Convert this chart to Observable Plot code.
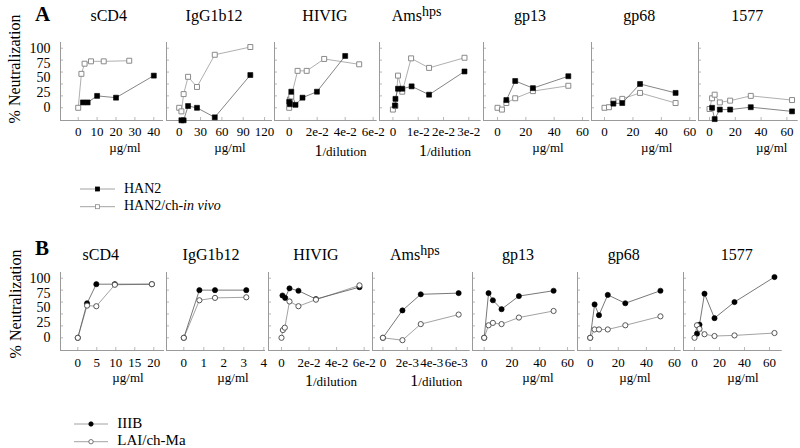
<!DOCTYPE html>
<html><head><meta charset="utf-8">
<script src="https://cdn.jsdelivr.net/npm/d3@7"></script>
<script src="https://cdn.jsdelivr.net/npm/@observablehq/plot@0.6"></script>
<style>
html,body{margin:0;padding:0;background:#fff;}
#chart{position:relative;width:800px;height:448px;overflow:hidden;font-family:"Liberation Serif","Times New Roman",serif;background:#fff;}
#chart svg text{font-family:"Liberation Serif","Times New Roman",serif;}
</style></head><body><div id="chart"></div>
<script>
// ---------- DATA ----------
const panelNames = ["sCD4", "IgG1b12", "HIVIG", "Ams", "gp13", "gp68", "1577"];
const xUnits = ["µg/ml", "µg/ml", "1/dilution", "1/dilution", "µg/ml", "µg/ml", "µg/ml"];
const yTickValues = [0, 25, 50, 75, 100];
const yMinorTicks = [0, 20, 40, 60, 80, 100];

// Panel A: HAN2 (filled squares) vs HAN2/ch-in vivo (open squares), [x, % neutralization]
const aHan2_sCD4 = [[2.5, 9], [5, 9], [10, 20], [20, 17], [40, 54]];
const aCh_sCD4 = [[0, 0], [1.69, 57], [3.375, 74], [6.75, 78], [13.5, 78], [27, 79]];
const aHan2_IgG = [[3.125, -21], [6.25, -21], [12.5, 3], [25, 0], [50, -16], [100, 55]];
const aCh_IgG = [[0, 0], [3.125, -6], [6.25, 23], [12.5, 52], [25, 35], [50, 89], [100, 102]];
const aHan2_HIVIG = [[0, 10], [0.0005, 6], [0.0015, 27], [0.0045, 5], [0.0095, 17], [0.0198, 27], [0.04, 87]];
const aCh_HIVIG = [[0, 0], [0.0005, 14], [0.0015, 19], [0.006, 62], [0.0125, 62], [0.025, 82], [0.05, 73]];
const aHan2_Ams = [[0.0008, 4], [0.001, 15], [0.002, 32], [0.0037, 32], [0.0074, 36], [0.0143, 22], [0.0283, 61]];
const aCh_Ams = [[0, -3], [0.001, 3], [0.002, 54], [0.0037, 27], [0.0072, 83], [0.0143, 67], [0.0283, 84]];
const aHan2_gp13 = [[6.25, 13], [12.5, 45], [25, 33], [50, 53]];
const aCh_gp13 = [[0, 0], [3.125, -3], [6.25, 8], [12.5, 16], [25, 28], [50, 37]];
const aHan2_gp68 = [[6.25, 7], [12.5, 8], [25, 40], [50, 25]];
const aCh_gp68 = [[0, 0], [3.125, 1], [6.25, 12], [12.5, 15], [25, 25], [50, 8]];
const aHan2_1577 = [[2, 0], [4, -19], [8, -3], [16, -3], [32, 1], [64, -6]];
const aCh_1577 = [[0, -2], [2, 16], [4, 22], [8, 9], [16, 12], [32, 20], [64, 13]];

// Panel B: IIIB (filled circles) vs LAI/ch-Ma (open circles)
const bIIIB_sCD4 = [[0, 0], [2.44, 58], [4.88, 90], [9.75, 90], [19.5, 90]];
const bLAI_sCD4 = [[0, 0], [2.44, 54], [4.88, 53], [9.75, 89], [19.5, 90]];
const bIIIB_IgG = [[0, 0], [0.78, 80], [1.56, 80], [3.125, 80]];
const bLAI_IgG = [[0, 0], [0.78, 63], [1.56, 67], [3.125, 68]];
const bIIIB_HIVIG = [[0.0007, 71], [0.0027, 67], [0.0058, 83], [0.0123, 79], [0.025, 65], [0.0566, 85]];
const bLAI_HIVIG = [[0, 0], [0.001, 13], [0.0024, 17], [0.0058, 61], [0.0123, 53], [0.025, 64], [0.0566, 88]];
const bIIIB_Ams = [[0, 0], [0.0016, 46], [0.0031, 73], [0.0062, 75]];
const bLAI_Ams = [[0, 0], [0.0016, -4], [0.0031, 23], [0.0062, 39]];
const bIIIB_gp13 = [[0, 0], [3.125, 75], [6.25, 63], [12.5, 48], [25, 70], [50, 79]];
const bLAI_gp13 = [[0, 0], [3.125, 21], [6.25, 25], [12.5, 23], [25, 34], [50, 45]];
const bIIIB_gp68 = [[0, 0], [3.125, 56], [6.25, 38], [12.5, 72], [25, 58], [50, 79]];
const bLAI_gp68 = [[0, 0], [3.125, 14], [6.25, 14], [12.5, 14], [25, 21], [50, 36]];
const bIIIB_1577 = [[2, 7], [4, 22], [8, 74], [16, 33], [32, 60], [64, 102]];
const bLAI_1577 = [[0, 0], [2, 21], [4, 15], [8, 6], [16, 3], [32, 4], [64, 8]];

// Tick values and labels
const aTicks = [[0, 10, 20, 30, 40], [0, 30, 60, 90, 120], [0, 0.02, 0.04, 0.06], [0, 0.01, 0.02, 0.03], [0, 20, 40, 60], [0, 20, 40, 60], [0, 20, 40, 60]];
const aTickLabels = [null, null, ["0", "2e-2", "4e-2", "6e-2"], ["0", "1e-2", "2e-2", "3e-2"], null, null, null];
const bTicks = [[0, 5, 10, 15, 20], [0, 1, 2, 3, 4], [0, 0.02, 0.04, 0.06], [0, 0.002, 0.004, 0.006], [0, 20, 40, 60], [0, 20, 40, 60], [0, 20, 40, 60]];
const bTickLabels = [null, null, ["0", "2e-2", "4e-2", "6e-2"], ["0", "2e-3", "4e-3", "6e-3"], null, null, null];

const seriesA = { filled: [aHan2_sCD4, aHan2_IgG, aHan2_HIVIG, aHan2_Ams, aHan2_gp13, aHan2_gp68, aHan2_1577],
                  open: [aCh_sCD4, aCh_IgG, aCh_HIVIG, aCh_Ams, aCh_gp13, aCh_gp68, aCh_1577] };
const seriesB = { filled: [bIIIB_sCD4, bIIIB_IgG, bIIIB_HIVIG, bIIIB_Ams, bIIIB_gp13, bIIIB_gp68, bIIIB_1577],
                  open: [bLAI_sCD4, bLAI_IgG, bLAI_HIVIG, bLAI_Ams, bLAI_gp13, bLAI_gp68, bLAI_1577] };

// ---------- LAYOUT ----------
const serif = "'Liberation Serif', 'Times New Roman', serif";
const yDomain = [-21.3, 109.6];
const groupA = {
  top: 42, bottom: 120, tickPad: 6, symbol: "square", r: 2.8, filledOnTop: true,
  left: [60, 166, 274.3, 379.3, 482.7, 591, 698.3],
  right: [163, 272, 377, 481, 589, 696, 798],
  domains: [[-9.37, 45.13], [-17.85, 131.17], [-0.0105, 0.06286], [-0.0053, 0.0349], [-9.88, 65.15], [-9.14, 64.71], [-8.53, 68.76]],
  ticks: aTicks, tickLabels: aTickLabels, series: seriesA,
  filledLine: "#666", openLine: "#9a9a9a", openStroke: "#8a8a8a"
};
const groupB = {
  top: 272, bottom: 350, tickPad: 7, symbol: "circle", r: 2.6, filledOnTop: false,
  left: [60, 166, 268.3, 372.3, 472.3, 577.3, 683.3],
  right: [164, 265, 370, 470, 575, 681, 782],
  domains: [[-4.55, 22.82], [-0.865, 4.085], [-0.00943, 0.06437], [-0.000851, 0.007146], [-8.43, 65.56], [-9.04, 64.77], [-8.8, 70.16]],
  ticks: bTicks, tickLabels: bTickLabels, series: seriesB,
  filledLine: "#555", openLine: "#8a8a8a", openStroke: "#555"
};
const axisGrey = "#9a9a9a";
const chart = document.getElementById("chart");

function makePanel(g, i) {
  const L = g.left[i], R = g.right[i];
  const showY = i === 0;
  const mL = showY ? 45 : 2, mR = 14, mT = 2, mB = 28;
  const W = R - L + mL + mR, H = g.bottom - g.top + mT + mB;
  const dom = g.domains[i];
  const ticks = g.ticks[i];
  const labs = g.tickLabels[i];
  const fmt = labs ? (d => labs[ticks.indexOf(d)]) : (d => String(d));
  const xLen = (dom[1] - dom[0]) * 3 / (R - L);
  const yLen = (yDomain[1] - yDomain[0]) * 3 / (g.bottom - g.top);
  const filled = g.series.filled[i], open = g.series.open[i];
  const X = d => d[0], Y = d => d[1];
  const filledDots = Plot.dot(filled, {x: X, y: Y, symbol: g.symbol, r: g.r, fill: "black", stroke: "black", strokeWidth: 0.6});
  const openDots = Plot.dot(open, {x: X, y: Y, symbol: g.symbol, r: g.r, fill: "white", stroke: g.openStroke, strokeWidth: 1});
  const marks = [
    Plot.ruleX(ticks, {x: d => d, y1: yDomain[0], y2: yDomain[0] + yLen, stroke: axisGrey, strokeWidth: 0.7}),
    Plot.ruleY(yMinorTicks, {y: d => d, x1: dom[0], x2: dom[0] + xLen, stroke: axisGrey, strokeWidth: 0.7}),
    Plot.ruleY([yDomain[0]], {stroke: axisGrey, strokeWidth: 1}),
    Plot.ruleX([dom[0]], {stroke: axisGrey, strokeWidth: 1}),
    Plot.axisX({ticks, tickFormat: fmt, tickSize: 0, tickPadding: g.tickPad, label: null, fontSize: 13, fontFamily: serif}),
    Plot.line(open, {x: X, y: Y, stroke: g.openLine, strokeWidth: 0.8}),
    Plot.line(filled, {x: X, y: Y, stroke: g.filledLine, strokeWidth: 0.8}),
    ...(g.filledOnTop ? [openDots, filledDots] : [filledDots, openDots])
  ];
  if (showY) marks.push(Plot.axisY({ticks: yTickValues, tickSize: 0, tickPadding: 10, label: null, fontSize: 14, fontFamily: serif}));
  const svg = Plot.plot({
    width: W, height: H,
    marginLeft: mL, marginRight: mR, marginTop: mT, marginBottom: mB,
    x: {domain: dom, axis: null},
    y: {domain: yDomain, axis: null},
    style: {fontFamily: serif, fontSize: "13px", background: "transparent", overflow: "visible", maxWidth: "none"},
    marks
  });
  svg.style.position = "absolute";
  svg.style.left = (L - mL) + "px";
  svg.style.top = (g.top - mT) + "px";
  svg.style.fontFamily = serif;
  chart.appendChild(svg);
}
for (let i = 0; i < 7; i++) { makePanel(groupA, i); makePanel(groupB, i); }

// ---------- TEXT OVERLAY ----------
const ov = d3.select(chart).append("svg")
  .attr("width", 800).attr("height", 448)
  .style("position", "absolute").style("left", "0px").style("top", "0px")
  .style("font-family", serif);

function letter(t, x, y) {
  ov.append("text").attr("x", x).attr("y", y).attr("font-size", 21).attr("font-weight", "bold").text(t);
}
letter("A", 35, 21);
letter("B", 35, 255);

function yLabel(x, y) {
  ov.append("text").attr("transform", `translate(${x},${y}) rotate(-90)`)
    .attr("text-anchor", "middle").attr("font-size", 16).text("% Neutralization");
}
yLabel(20, 69);
yLabel(20.5, 304);

function titles(centers, amsStart, baseline) {
  panelNames.forEach((name, i) => {
    if (name === "Ams") {
      const t = ov.append("text").attr("x", amsStart).attr("y", baseline).attr("font-size", 16);
      t.append("tspan").text("Ams");
      t.append("tspan").attr("dy", -5).attr("font-size", 14).text("hps");
    } else {
      ov.append("text").attr("x", centers[i]).attr("y", baseline).attr("text-anchor", "middle")
        .attr("font-size", 16).text(name);
    }
  });
}
titles([108.7, 214, 325, 0, 530, 639.3, 747.3], 391.7, 21);
titles([100.8, 211, 316, 0, 518, 623.7, 736.7], 390, 260);

function xLabels(centers, baseUg, baseDil) {
  xUnits.forEach((u, i) => {
    if (u === "1/dilution") {
      const t = ov.append("text").attr("x", centers[i]).attr("y", baseDil).attr("text-anchor", "middle");
      t.append("tspan").attr("font-size", 16).text("1");
      t.append("tspan").attr("font-size", 13).text("/dilution");
    } else {
      ov.append("text").attr("x", centers[i]).attr("y", baseUg).attr("text-anchor", "middle")
        .attr("font-size", 13).text(u);
    }
  });
}
xLabels([125, 230, 340.5, 445, 548, 656.7, 771.7], 152, 156);
xLabels([128, 233, 331, 436.3, 538, 635, 743], 382, 386);

// Legends
function legendRow(x1, x2, y, symbol, filled, textX, baseline, parts, size) {
  ov.append("line").attr("x1", x1).attr("x2", x2).attr("y1", y).attr("y2", y)
    .attr("stroke", "#8a8a8a").attr("stroke-width", 0.8);
  const mx = (x1 + x2) / 2;
  if (symbol === "square") {
    ov.append("rect").attr("x", mx - 2).attr("y", y - 2).attr("width", 4).attr("height", 4)
      .attr("fill", filled ? "black" : "white").attr("stroke", filled ? "black" : "#8a8a8a").attr("stroke-width", 0.8);
  } else {
    ov.append("circle").attr("cx", mx).attr("cy", y).attr("r", 2.2)
      .attr("fill", filled ? "black" : "white").attr("stroke", filled ? "black" : "#555").attr("stroke-width", 0.8);
  }
  const t = ov.append("text").attr("x", textX).attr("y", baseline).attr("font-size", size);
  parts.forEach(p => { const s = t.append("tspan").text(p.t); if (p.i) s.attr("font-style", "italic"); });
}
legendRow(80, 115, 189, "square", true, 124, 192.5, [{t: "HAN2"}], 14);
legendRow(80, 115, 206.7, "square", false, 124, 210, [{t: "HAN2/ch-"}, {t: "in vivo", i: true}], 14);
legendRow(74, 108, 424, "circle", true, 117.3, 427.5, [{t: "IIIB"}], 15);
legendRow(74, 108, 441.7, "circle", false, 117.3, 445, [{t: "LAI/ch-Ma"}], 15);
</script></body></html>
